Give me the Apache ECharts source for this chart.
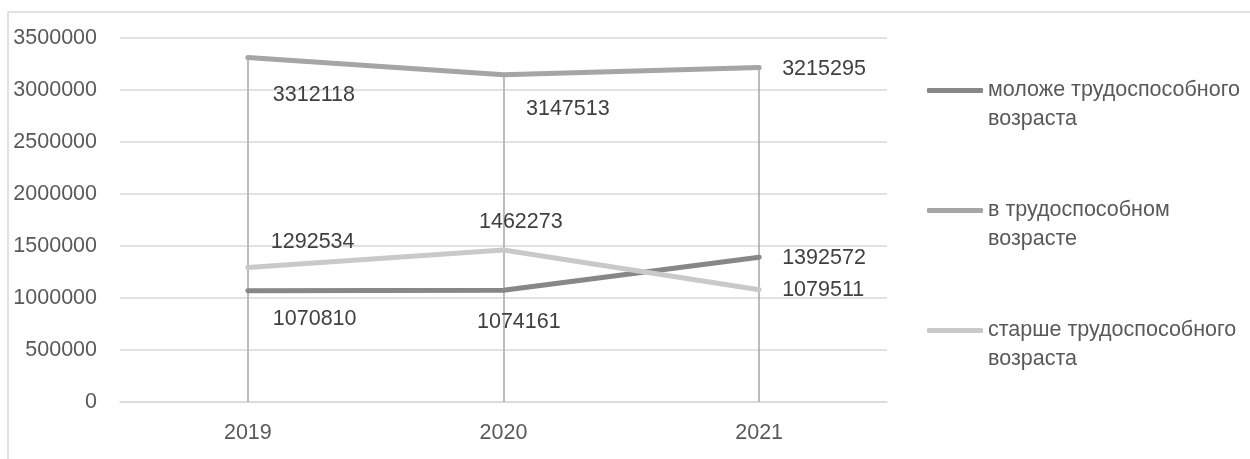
<!DOCTYPE html>
<html>
<head>
<meta charset="utf-8">
<script src="https://cdn.jsdelivr.net/npm/echarts@6/dist/echarts.min.js"></script>
<style>
html,body{margin:0;padding:0;background:#fff;}
#chart{width:1250px;height:459px;}
</style>
</head>
<body>
<div id="chart"></div>
<script>
const categories = ['2019', '2020', '2021'];
const seriesNames = ['моложе трудоспособного возраста', 'в трудоспособном возрасте', 'старше трудоспособного возраста'];
const youngerValues = [1070810, 1074161, 1392572];
const workingValues = [3312118, 3147513, 3215295];
const olderValues = [1292534, 1462273, 1079511];
const yTicks = [0, 500000, 1000000, 1500000, 2000000, 2500000, 3000000, 3500000];

const FONT = 'Liberation Sans';
const FS = 21.5;
const colors = ['#878787', '#a5a5a5', '#c9c9c9'];
// label offsets (style only): [dx, dy] relative to point
const labelOffsets = [
  [[25, 28.5], [-26.5, 32], [23, 1]],
  [[25, 37.5], [22.5, 34], [23, 1]],
  [[23, -25.5], [-24.5, -28], [23, 0]]
];
const allValues = [youngerValues, workingValues, olderValues];

function mkData(vals, si) {
  return vals.map((v, i) => ({
    value: v,
    label: { offset: labelOffsets[si][i] }
  }));
}

const dropLines = categories.map((c, i) => [
  { coord: [c, 0] },
  { coord: [c, Math.max(youngerValues[i], workingValues[i], olderValues[i])] }
]);

const chart = echarts.init(document.getElementById('chart'));
const series = allValues.map((vals, si) => ({
  name: seriesNames[si],
  type: 'line',
  data: mkData(vals, si),
  symbol: 'circle',
  symbolSize: 0,
  showSymbol: true,
  z: 3,
  lineStyle: { color: colors[si], width: 5, cap: 'round', join: 'round' },
  itemStyle: { color: colors[si] },
  label: {
    show: true,
    position: 'right',
    distance: 0,
    color: '#404040',
    fontFamily: FONT,
    fontSize: FS
  }
}));
series[1].markLine = {
  silent: true,
  symbol: 'none',
  z: 1,
  label: { show: false },
  lineStyle: { color: '#a6a6a6', width: 1.5, type: 'solid' },
  emphasis: { disabled: true },
  data: dropLines
};

chart.setOption({
  animation: false,
  backgroundColor: '#fff',
  graphic: [{
    type: 'rect',
    shape: { x: 8, y: 12, width: 1400, height: 600 },
    style: { fill: 'none', stroke: '#d9d9d9', lineWidth: 1.5 },
    silent: true,
    z: -10
  }],
  grid: { left: 120, right: 363, top: 38, bottom: 57 },
  legend: {
    orient: 'vertical',
    left: 927,
    top: 47,
    padding: 0,
    itemGap: 33,
    itemWidth: 56,
    itemHeight: 5,
    icon: 'roundRect',
    selectedMode: false,
    formatter: name => '\n' + name.replace(/ (\S+)$/, '\n$1'),
    textStyle: {
      color: '#595959',
      fontFamily: FONT,
      fontSize: FS,
      lineHeight: 29
    },
    data: seriesNames.map((n, i) => ({ name: n, itemStyle: { color: colors[i] } }))
  },
  xAxis: {
    type: 'category',
    data: categories,
    boundaryGap: true,
    axisLine: { show: true, lineStyle: { color: '#d9d9d9', width: 1.5 } },
    axisTick: { show: false },
    axisLabel: { color: '#595959', fontFamily: FONT, fontSize: FS, margin: 20 },
    splitLine: { show: false }
  },
  yAxis: {
    type: 'value',
    min: yTicks[0],
    max: yTicks[yTicks.length - 1],
    interval: yTicks[1] - yTicks[0],
    axisLine: { show: false },
    axisTick: { show: false },
    axisLabel: { color: '#595959', fontFamily: FONT, fontSize: FS, margin: 23, formatter: v => String(v) },
    splitLine: { lineStyle: { color: '#d9d9d9', width: 1.5 } }
  },
  series: series
});
</script>
</body>
</html>
